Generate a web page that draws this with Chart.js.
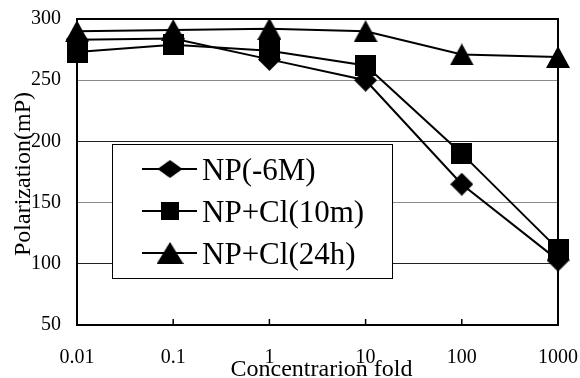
<!DOCTYPE html>
<html>
<head>
<meta charset="utf-8">
<script src="https://cdn.jsdelivr.net/npm/chart.js@4/dist/chart.umd.min.js"></script>
<style>
  html, body { margin: 0; padding: 0; background: #fff; }
  #wrap { width: 580px; height: 378px; }
</style>
</head>
<body>
<div id="wrap"><canvas id="c" width="580" height="378"></canvas></div>
<script>
// Concentration fold (category axis) and polarization readings per series
const categories = ['0.01', '0.1', '1', '10', '100', '1000'];
const seriesNames = ['NP(-6M)', 'NP+Cl(10m)', 'NP+Cl(24h)'];
const npMinus6M = [283, 284, 267, 250, 165, 103];
const npCl10m   = [273, 279, 274, 262, 190, 112];
const npCl24h   = [290, 291, 292, 290, 271, 269];
const yTickValues = [50, 100, 150, 200, 250, 300];
const xTitle = 'Concentrarion fold';
const yTitle = 'Polarization(mP)';

const SERIF = '"Liberation Serif", "Times New Roman", serif';
Chart.defaults.font.family = SERIF;
Chart.defaults.color = '#000';

// Solid black marker shapes, centred on their bounding boxes
function makeMarker(w, h, path) {
  const c = document.createElement('canvas');
  c.width = w; c.height = h;
  const g = c.getContext('2d');
  g.fillStyle = '#000';
  g.beginPath();
  path(g, w, h);
  g.closePath();
  g.fill();
  return c;
}
const diamondMark = makeMarker(23, 23, (g, w, h) => {
  g.moveTo(w / 2, 0); g.lineTo(w, h / 2); g.lineTo(w / 2, h); g.lineTo(0, h / 2);
});
const squareMark = makeMarker(21, 21, (g, w, h) => { g.rect(0, 0, w, h); });
const triangleMark = makeMarker(24, 22, (g, w, h) => {
  g.moveTo(w / 2, 0); g.lineTo(w, h); g.lineTo(0, h);
});

const markers = [diamondMark, squareMark, triangleMark];
const legendSizes = [[25, 18], [18, 18], [27, 22]];
const seriesValues = [npMinus6M, npCl10m, npCl24h];

const datasets = seriesValues.map((vals, i) => ({
  label: seriesNames[i],
  data: vals,
  borderColor: '#000',
  backgroundColor: '#000',
  borderWidth: 2,
  tension: 0,
  fill: false,
  clip: false,
  pointStyle: markers[i],
  pointRadius: 11,
  pointHoverRadius: 11
}));

// Frame, inward x ticks, in-plot legend box and axis titles
const decorations = {
  id: 'decorations',
  beforeDatasetsDraw(chart) {
    const { ctx, chartArea: a } = chart;
    const xs = chart.scales.x;
    ctx.save();
    ctx.strokeStyle = '#000';
    ctx.lineWidth = 1.5;
    xs.ticks.forEach((t, i) => {
      const px = xs.getPixelForTick(i);
      ctx.beginPath();
      ctx.moveTo(px, a.bottom);
      ctx.lineTo(px, a.bottom - 6);
      ctx.stroke();
    });
    ctx.lineWidth = 2;
    ctx.strokeRect(a.left, a.top, a.right - a.left, a.bottom - a.top);
    ctx.restore();
  },
  afterDatasetsDraw(chart) {
    const { ctx, chartArea: a } = chart;
    const bx = a.left + 35, by = a.top + 125, bw = 280, bh = 134;
    ctx.save();
    ctx.fillStyle = '#fff';
    ctx.fillRect(bx, by, bw, bh);
    ctx.strokeStyle = '#000';
    ctx.lineWidth = 1;
    ctx.strokeRect(bx + 0.5, by + 0.5, bw, bh);
    ctx.font = '31px ' + SERIF;
    ctx.fillStyle = '#000';
    ctx.textAlign = 'left';
    ctx.textBaseline = 'alphabetic';
    chart.data.datasets.forEach((ds, i) => {
      const cy = by + 25 + i * 42;
      ctx.lineWidth = 2;
      ctx.beginPath();
      ctx.moveTo(bx + 30, cy);
      ctx.lineTo(bx + 85, cy);
      ctx.stroke();
      const [mw, mh] = legendSizes[i];
      ctx.drawImage(ds.pointStyle, bx + 58 - mw / 2, cy - mh / 2, mw, mh);
      ctx.fillText(ds.label, bx + 90, cy + 11);
    });
    ctx.restore();
  },
  afterDraw(chart) {
    const { ctx, chartArea: a } = chart;
    ctx.save();
    ctx.fillStyle = '#000';
    ctx.font = '24px ' + SERIF;
    ctx.textAlign = 'center';
    ctx.textBaseline = 'alphabetic';
    ctx.fillText(xTitle, (a.left + a.right) / 2 + 4, a.bottom + 51);
    ctx.translate(a.left - 47, (a.top + a.bottom) / 2 + 2);
    ctx.rotate(-Math.PI / 2);
    ctx.fillText(yTitle, 0, 0);
    ctx.restore();
  }
};

new Chart(document.getElementById('c'), {
  type: 'line',
  data: { labels: categories, datasets },
  options: {
    responsive: false,
    animation: false,
    events: [],
    layout: { autoPadding: false, padding: { left: 15, right: 22, top: 19, bottom: -13 } },
    plugins: { legend: { display: false }, tooltip: { enabled: false } },
    scales: {
      x: {
        type: 'category',
        offset: false,
        grid: { display: false, drawTicks: false },
        border: { display: false },
        ticks: { font: { size: 20 }, color: '#000', padding: 21, maxRotation: 0, autoSkip: false },
        afterFit(scale) { scale.paddingLeft = 0; scale.paddingRight = 0; }
      },
      y: {
        type: 'linear',
        min: 50,
        max: 300,
        afterBuildTicks(scale) { scale.ticks = yTickValues.map(v => ({ value: v })); },
        grid: {
          drawTicks: false,
          lineWidth: 1,
          color: ctx => (ctx.tick && (ctx.tick.value === 250 || ctx.tick.value === 150)) ? '#8a8a8a' : '#222'
        },
        border: { display: false },
        ticks: { font: { size: 20 }, color: '#000', padding: 16 },
        afterFit(scale) { scale.paddingTop = 0; scale.paddingBottom = 0; }
      }
    }
  },
  plugins: [decorations]
});
</script>
</body>
</html>
